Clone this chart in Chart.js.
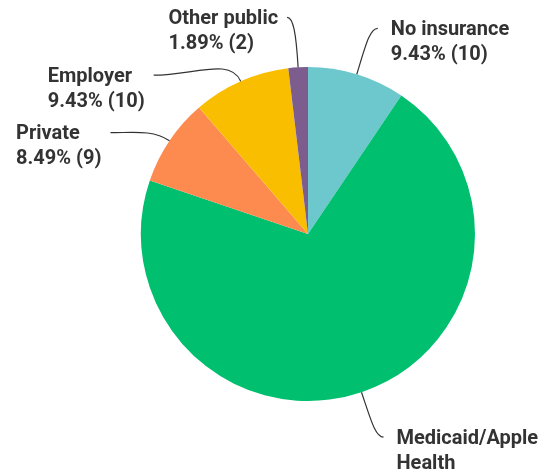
<!DOCTYPE html>
<html>
<head>
<meta charset="utf-8">
<script src="https://cdn.jsdelivr.net/npm/chart.js@4"></script>
<style>
  html, body { margin: 0; padding: 0; background: #fff; }
  #wrap { width: 548px; height: 472px; position: relative; }
</style>
</head>
<body>
<div id="wrap"><canvas id="pieChart"></canvas></div>
<script>
const categories = ["No insurance", "Medicaid/Apple Health", "Private", "Employer", "Other public"];
const counts = [10, 75, 9, 10, 2];
const colors = ["#6cc8cd", "#00bf6f", "#fd8b50", "#f9be00", "#7d5c8e"];

// label placement: where the leader ends relative to the slice edge, and text lines per label
const leaders = [
  { dx: 21, dy: -46, out: 30, flat: 8, side: "right", lines: ["No insurance"] },
  { dx: 22, dy: 45, out: 30, flat: 8, side: "right", lines: ["Medicaid/Apple", "Health"] },
  { dx: -59, dy: -8, out: 20, flat: 22, side: "left", lines: ["Private"] },
  { dx: -87, dy: -6, out: 26, flat: 40, side: "left", lines: ["Employer"] },
  { dx: -11, dy: -50, out: 35, flat: 6, side: "left", lines: ["Other public"] }
];

const total = counts.reduce((a, b) => a + b, 0);
const FONT = "bold 20px Roboto";
const LINE_H = 25;

const leaderLabels = {
  id: "leaderLabels",
  afterDraw(chart) {
    const ctx = chart.ctx;
    const meta = chart.getDatasetMeta(0);
    ctx.save();
    ctx.font = FONT;
    meta.data.forEach((arc, i) => {
      const st = leaders[i];
      const mid = (arc.startAngle + arc.endAngle) / 2;
      const ux = Math.cos(mid), uy = Math.sin(mid);
      const p0 = { x: arc.x + ux * arc.outerRadius, y: arc.y + uy * arc.outerRadius };
      const p3 = { x: p0.x + st.dx, y: p0.y + st.dy };
      const p1 = { x: p0.x + ux * st.out, y: p0.y + uy * st.out };
      const dir = st.side === "right" ? -1 : 1;
      const p2 = { x: p3.x + dir * st.flat, y: p3.y };

      ctx.beginPath();
      ctx.moveTo(p0.x, p0.y);
      ctx.bezierCurveTo(p1.x, p1.y, p2.x, p2.y, p3.x, p3.y);
      ctx.strokeStyle = "#333";
      ctx.lineWidth = 1.2;
      ctx.stroke();

      const pct = (counts[i] / total * 100).toFixed(2) + "% (" + counts[i] + ")";
      const lines = st.lines.concat([pct]);
      const widest = Math.max(...lines.map(t => ctx.measureText(t).width));
      const left = st.side === "right" ? p3.x + 13 : p3.x - 9 - widest;
      ctx.fillStyle = "#333";
      ctx.textAlign = "left";
      ctx.textBaseline = "middle";
      lines.forEach((t, k) => ctx.fillText(t, left, p3.y + 1.5 + k * LINE_H));
    });
    ctx.restore();
  }
};

new Chart(document.getElementById("pieChart"), {
  type: "pie",
  data: {
    labels: categories,
    datasets: [{
      data: counts,
      backgroundColor: colors,
      borderWidth: 0
    }]
  },
  options: {
    responsive: true,
    maintainAspectRatio: false,
    animation: false,
    layout: { padding: { left: 141, right: 73, top: 67, bottom: 71 } },
    plugins: {
      legend: { display: false },
      tooltip: { enabled: false }
    }
  },
  plugins: [leaderLabels]
});
</script>
</body>
</html>
